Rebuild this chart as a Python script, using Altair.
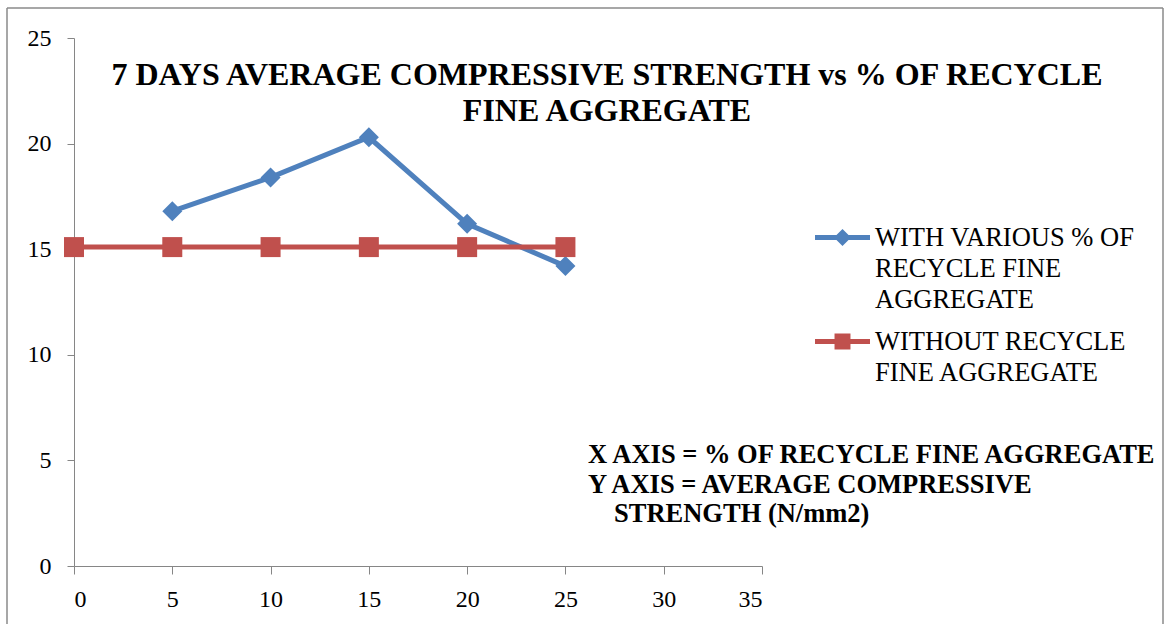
import altair as alt
import pandas as pd

# Average 7-day compressive strength (N/mm2) against % of recycled fine aggregate
pct_with = [5, 10, 15, 20, 25]
strength_with = [16.8, 18.4, 20.3, 16.2, 14.2]
pct_without = [0, 5, 10, 15, 20, 25]
strength_without = [15.1, 15.1, 15.1, 15.1, 15.1, 15.1]

series_with = "WITH VARIOUS % OF RECYCLE FINE AGGREGATE"
series_without = "WITHOUT RECYCLE FINE AGGREGATE"
legend_lines = {
    series_with: ["WITH VARIOUS % OF", "RECYCLE FINE", "AGGREGATE"],
    series_without: ["WITHOUT RECYCLE", "FINE AGGREGATE"],
}
title_lines = ["7 DAYS AVERAGE COMPRESSIVE STRENGTH vs % OF RECYCLE", "FINE AGGREGATE"]
note_lines = [
    "X AXIS = % OF RECYCLE FINE AGGREGATE",
    "Y AXIS = AVERAGE COMPRESSIVE",
    "STRENGTH (N/mm2)",
]
x_ticks = [0, 5, 10, 15, 20, 25, 30, 35]
y_ticks = [0, 5, 10, 15, 20, 25]

BLUE = "#4F81BD"
RED = "#C0504D"
GREY = "#868686"
FONT = "'Liberation Serif', 'Times New Roman', 'DejaVu Serif', serif"

df_with = pd.DataFrame({"pct": pct_with, "strength": strength_with, "series": series_with})
df_without = pd.DataFrame({"pct": pct_without, "strength": strength_without, "series": series_without})
df = pd.concat([df_with, df_without], ignore_index=True)


def js_list(items):
    return "[" + ",".join("'" + s + "'" for s in items) + "]"


label_expr = (
    f"datum.label == '{series_with}' ? {js_list(legend_lines[series_with])}"
    f" : {js_list(legend_lines[series_without])}"
)

# legend glyphs: a line segment with the series marker on it
diamond_glyph = "M-1,-0.09H1V0.09H-1Z M0,-0.31L0.31,0L0,0.31L-0.31,0Z"
square_glyph = "M-1,-0.09H1V0.09H-1Z M-0.29,-0.29H0.29V0.29H-0.29Z"

x_enc = alt.X(
    "pct:Q",
    scale=alt.Scale(domain=[0, 35], nice=False, zero=False),
    axis=alt.Axis(values=x_ticks, title=None, grid=False, tickSize=8, labelPadding=13),
)
y_enc = alt.Y(
    "strength:Q",
    scale=alt.Scale(domain=[0, 25], nice=False),
    axis=alt.Axis(values=y_ticks, title=None, grid=False, tickSize=7, labelPadding=16),
)


def series_layers(data, color, shape):
    base = alt.Chart(data).encode(x=x_enc, y=y_enc)
    return [
        base.mark_line(color=color, strokeWidth=5),
        base.mark_point(color=color, filled=True, opacity=1, size=400, shape=shape),
    ]


legend_def = alt.Legend(
    title=None,
    orient="none",
    legendX=741,
    legendY=172,
    padding=0,
    symbolSize=3025,
    symbolStrokeWidth=0,
    symbolOpacity=1,
    labelOffset=5,
    labelFont=FONT,
    labelFontSize=26.5,
    labelColor="black",
    labelLimit=400,
    rowPadding=1,
    labelExpr=label_expr,
)

# carries only the legend; its rows are filtered out so nothing is drawn
legend_layer = alt.Chart(df).mark_point(filled=True).encode(
    x=x_enc,
    y=y_enc,
    color=alt.Color(
        "series:N",
        scale=alt.Scale(domain=[series_with, series_without], range=[BLUE, RED]),
        legend=legend_def,
    ),
    shape=alt.Shape(
        "series:N",
        scale=alt.Scale(domain=[series_with, series_without], range=[diamond_glyph, square_glyph]),
        legend=legend_def,
    ),
).transform_filter("false")

one = alt.Data(values=[{"k": 0}])

frame_left = alt.Chart(one).mark_rule(color="#8a8a8a", strokeWidth=1.5).encode(
    x=alt.value(-67), y=alt.value(-30), y2=alt.value(600)
)
frame_top = alt.Chart(one).mark_rule(color="#8a8a8a", strokeWidth=1.5).encode(
    x=alt.value(-67), x2=alt.value(1089), y=alt.value(-30)
)
frame_right = alt.Chart(one).mark_rule(color="#8a8a8a", strokeWidth=1.5).encode(
    x=alt.value(1089), y=alt.value(-30), y2=alt.value(600)
)

title_style = dict(font=FONT, fontSize=32, fontWeight="bold", align="center",
                   baseline="alphabetic", color="black")
title1 = alt.Chart(one).mark_text(**title_style).encode(
    x=alt.value(533), y=alt.value(47), text=alt.value(title_lines[0])
)
title2 = alt.Chart(one).mark_text(**title_style).encode(
    x=alt.value(533), y=alt.value(83), text=alt.value(title_lines[1])
)

note_style = dict(font=FONT, fontSize=26.5, fontWeight="bold", align="left",
                  baseline="alphabetic", color="black")
note1 = alt.Chart(one).mark_text(**note_style).encode(
    x=alt.value(514), y=alt.value(425), text=alt.value(note_lines[0])
)
note2 = alt.Chart(one).mark_text(**note_style).encode(
    x=alt.value(514), y=alt.value(455), text=alt.value(note_lines[1])
)
note3 = alt.Chart(one).mark_text(**note_style).encode(
    x=alt.value(540), y=alt.value(484), text=alt.value(note_lines[2])
)

chart = (
    alt.layer(
        frame_left, frame_top, frame_right,
        *series_layers(df_with, BLUE, "diamond"),
        *series_layers(df_without, RED, "square"),
        legend_layer,
        title1, title2, note1, note2, note3,
    )
    .properties(
        width=688,
        height=528,
        autosize=alt.AutoSizeParams(type="none"),
        padding={"left": 74, "top": 38, "right": 407, "bottom": 58},
        background="white",
    )
    .configure(style={"guide-label": {"lineHeight": 31}})
    .configure_view(stroke=None)
    .configure_axis(
        labelFont=FONT,
        labelFontSize=24,
        labelColor="black",
        domainColor=GREY,
        tickColor=GREY,
        domainWidth=1,
        tickWidth=1,
    )
)

chart.save("out.html", embed_options={"renderer": "svg", "actions": False})
